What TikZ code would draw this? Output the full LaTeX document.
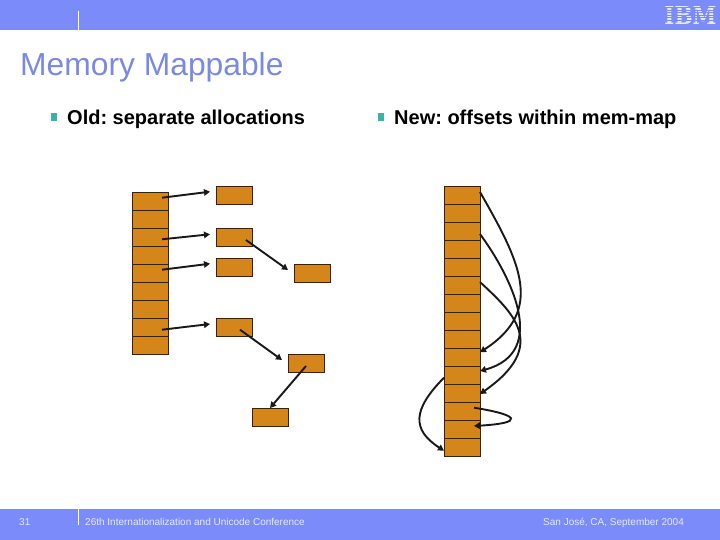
\documentclass[tikz,border=0pt]{standalone}
\usepackage{fontspec}
\setmainfont{Liberation Sans}
\usetikzlibrary{arrows.meta,positioning,calc}
\definecolor{ibmband}{HTML}{7B8CFA}
\definecolor{ibmtitle}{HTML}{7A8AE0}
\definecolor{ibmteal}{HTML}{3FB0A8}
\definecolor{cellfill}{HTML}{D5861A}
\definecolor{cellline}{HTML}{3A2208}
\definecolor{footgrey}{HTML}{E4E8FF}

\begin{document}
\frenchspacing
\begin{tikzpicture}[
  x=1pt, y=-1pt,
  cell/.style={draw=cellline, line width=0.8pt, fill=cellfill, outer sep=0pt, inner sep=0pt,
               minimum width=36pt, minimum height=18pt},
  arrow/.style={-{Triangle[length=6pt,width=6.5pt]}, black!90, line width=1.9pt},
  band/.style={fill=ibmband, draw=none},
  tick/.style={draw=white, line width=0.8pt},
  foot/.style={font=\fontsize{10}{12}\selectfont, text=footgrey, anchor=base west, inner sep=0pt},
  head/.style={font=\fontsize{20}{24}\selectfont\bfseries, text=black, anchor=base west, inner sep=0pt},
  bullet/.style={fill=ibmteal, inner sep=0pt, minimum width=6pt, minimum height=7.5pt},
]
\useasboundingbox (0,0) rectangle (720,540);

%% ---- Header and footer bands ----
\fill[band] (0,0) rectangle (720,30.5);
\fill[band] (0,509) rectangle (720,540);
\coordinate (ticktop1) at (78,11);
\coordinate (tickbot1) at (78,30.5);
\coordinate (ticktop2) at (78,509);
\coordinate (tickbot2) at (78,525);
\draw[tick] (ticktop1) -- (tickbot1);
\draw[tick] (ticktop2) -- (tickbot2);

%% ---- Logo ----
\node[font=\fontsize{21.5}{22}\selectfont\bfseries, text=white!80!ibmband, inner sep=0pt,
      yscale=1.15, transform shape] (logo) at (690.5,15.5) {\fontspec{DejaVu Serif}IBM};
\foreach \yy in {7.5,10,12.5,15,17.5,20} {
  \fill[ibmband] (664,\yy) rectangle (718,\yy+0.9);
}

%% ---- Title and bullets ----
\node[font=\fontsize{31.8}{38}\selectfont, text=ibmtitle, anchor=base west, inner sep=0pt] (title) at (20,76) {Memory Mappable};
\node[bullet] (b1) at (54,117) {};
\node[head] (old) at (67,124.5) {Old: separate allocations};
\node[bullet] (b2) at (381,117) {};
\node[head] (new) at (394,124.5) {New: offsets within mem-map};

%% ---- Old: table of pointers ----
\node[cell] (l1) at (150,201) {};
\node[cell, below=0pt of l1] (l2) {};
\node[cell, below=0pt of l2] (l3) {};
\node[cell, below=0pt of l3] (l4) {};
\node[cell, below=0pt of l4] (l5) {};
\node[cell, below=0pt of l5] (l6) {};
\node[cell, below=0pt of l6] (l7) {};
\node[cell, below=0pt of l7] (l8) {};
\node[cell, below=0pt of l8] (l9) {};

%% ---- Old: separate blocks ----
\node[cell] (a1) at (234,195) {};
\node[cell] (a2) at (234,237) {};
\node[cell] (a3) at (234,267) {};
\node[cell] (a4) at (234,327) {};
\node[cell] (a5) at (312,273) {};
\node[cell] (a6) at (306,363) {};
\node[cell] (a7) at (270,417) {};

\draw[arrow] ($(l1)+(12,-3.3)$) -- ($(a1.west)+(-6,-3.3)$);
\draw[arrow] ($(l3)+(12,2.3)$) -- ($(a2.west)+(-6,-2.7)$);
\draw[arrow] ($(l5)+(12,-3.3)$) -- ($(a3.west)+(-6,-3.3)$);
\draw[arrow] ($(l8)+(12,2.7)$) -- ($(a4.west)+(-6,-3)$);
\draw[arrow] ($(a2)+(12,3)$) -- ($(a5.west)+(-6,-3)$);
\draw[arrow] ($(a4)+(6,2.7)$) -- ($(a6.west)+(-6,-3)$);
\draw[arrow] ($(a6)+(0,3)$) -- (a7.north);

%% ---- New: one mem-map ----
\node[cell] (m1) at (462,195) {};
\node[cell, below=0pt of m1] (m2) {};
\node[cell, below=0pt of m2] (m3) {};
\node[cell, below=0pt of m3] (m4) {};
\node[cell, below=0pt of m4] (m5) {};
\node[cell, below=0pt of m5] (m6) {};
\node[cell, below=0pt of m6] (m7) {};
\node[cell, below=0pt of m7] (m8) {};
\node[cell, below=0pt of m8] (m9) {};
\node[cell, below=0pt of m9] (m10) {};
\node[cell, below=0pt of m10] (m11) {};
\node[cell, below=0pt of m11] (m12) {};
\node[cell, below=0pt of m12] (m13) {};
\node[cell, below=0pt of m13] (m14) {};
\node[cell, below=0pt of m14] (m15) {};

\draw[arrow] ($(m1.east)+(0,-3)$) .. controls (520,262) and (545,310) .. ($(m10.east)+(0,-4.7)$);
\draw[arrow] ($(m3.east)+(0,3)$) .. controls (510,275) and (550,352) .. ($(m11.east)+(0,-4)$);
\draw[arrow] ($(m6.east)+(0,-3)$) .. controls (512,312) and (550,345) .. ($(m12.east)+(0,1)$);
\draw[arrow] ($(m13)+(12,-3.3)$) .. controls (520,415) and (525,423) .. ($(m14)+(12,-3)$);
\draw[arrow] ($(m11.west)+(0,2.7)$) .. controls (412,410) and (412,430) .. ($(m15.west)+(0,3.7)$);

%% ---- Footer text ----
\node[foot] (page) at (19,525) {31};
\node[foot] (conf) at (85,525) {26th Internationalization and Unicode Conference};
\node[foot] (place) at (543,525) {San José, CA, September 2004};
\end{tikzpicture}
\end{document}
